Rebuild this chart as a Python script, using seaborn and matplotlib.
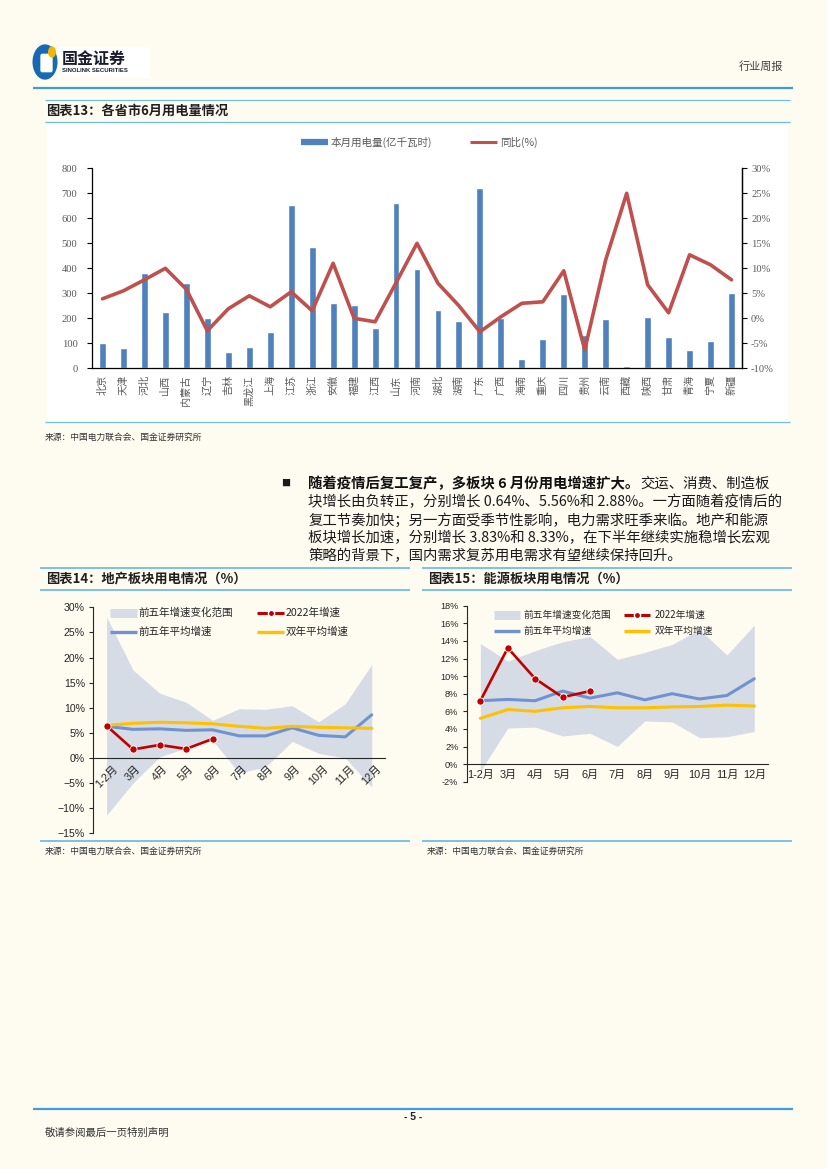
import numpy as np
import pandas as pd
import matplotlib
matplotlib.use("Agg")
import matplotlib.pyplot as plt
import seaborn as sns
from matplotlib.lines import Line2D
from matplotlib.patches import Rectangle, Circle, FancyBboxPatch

sns.set_theme(style="white")
CJK = ["Noto Sans CJK SC", "DejaVu Sans"]
SANS = ["Liberation Sans", "Noto Sans CJK SC", "DejaVu Sans"]
SERIF = ["Liberation Serif", "Noto Sans CJK SC", "DejaVu Sans"]
plt.rcParams["font.family"] = CJK
plt.rcParams["axes.unicode_minus"] = True

# ---------------- data ----------------
provinces = ["北京", "天津", "河北", "山西", "内蒙古", "辽宁", "吉林", "黑龙江", "上海", "江苏",
             "浙江", "安徽", "福建", "江西", "山东", "河南", "湖北", "湖南", "广东", "广西",
             "海南", "重庆", "四川", "贵州", "云南", "西藏", "陕西", "甘肃", "青海", "宁夏", "新疆"]
power = [100, 83, 381, 227, 340, 200, 64, 87, 147, 652,
         485, 261, 253, 160, 660, 396, 232, 188, 721, 200,
         39, 116, 297, 135, 197, 8, 204, 125, 75, 109, 301]
yoy = [3.9, 5.5, 7.7, 10.0, 5.8, -2.5, 1.9, 4.5, 2.3, 5.3,
       1.5, 11.0, 0.0, -0.7, 7.1, 15.0, 7.0, 2.5, -2.7, 0.3,
       3.0, 3.3, 9.5, -6.3, 11.7, 25.0, 6.7, 1.1, 12.7, 10.7, 7.7]

months = ["1-2月", "3月", "4月", "5月", "6月", "7月", "8月", "9月", "10月", "11月", "12月"]

re_hi = [28.1, 17.5, 12.9, 11.1, 7.5, 9.8, 9.7, 10.4, 7.2, 10.8, 18.6]
re_lo = [-11.4, -5.0, 0.2, 2.0, 3.5, -3.0, -1.8, 3.3, 0.9, 0.0, -5.8]
re_avg = [6.3, 5.7, 5.8, 5.5, 5.6, 4.4, 4.4, 6.0, 4.5, 4.2, 8.6]
re_two = [6.5, 6.9, 7.1, 7.0, 6.8, 6.3, 5.9, 6.3, 6.1, 6.0, 5.9]
re_2022 = [6.4, 1.7, 2.6, 1.8, 3.8]

en_hi = [13.7, 11.7, 12.9, 13.9, 14.5, 11.9, 12.7, 13.6, 15.3, 12.4, 15.8]
en_lo = [-0.8, 4.1, 4.2, 3.2, 3.5, 2.0, 4.9, 4.8, 3.0, 3.1, 3.7]
en_avg = [7.2, 7.35, 7.2, 8.3, 7.5, 8.1, 7.3, 8.0, 7.4, 7.8, 9.7]
en_two = [5.2, 6.2, 6.0, 6.4, 6.55, 6.4, 6.4, 6.5, 6.55, 6.7, 6.6]
en_2022 = [7.2, 13.2, 9.7, 7.6, 8.3]

left_ticks_13 = list(range(0, 801, 100))
right_ticks_13 = list(range(-10, 31, 5))
ticks_14 = list(range(-15, 31, 5))
ticks_15 = list(range(-2, 19, 2))

legend_13 = ["本月用电量(亿千瓦时)", "同比(%)"]
legend_band = ["前五年增速变化范围", "前五年平均增速", "2022年增速", "双年平均增速"]

para_bold = "随着疫情后复工复产，多板块 6 月份用电增速扩大。"
para_lines = ["交运、消费、制造板",
              "块增长由负转正，分别增长 0.64%、5.56%和 2.88%。一方面随着疫情后的",
              "复工节奏加快；另一方面受季节性影响，电力需求旺季来临。地产和能源",
              "板块增长加速，分别增长 3.83%和 8.33%，在下半年继续实施稳增长宏观",
              "策略的背景下，国内需求复苏用电需求有望继续保持回升。"]

# ---------------- colours ----------------
BG = "#FEFBF1"
BAR = "#4F81BD"
LINE13 = "#C0504D"
BAND = "#D6DCE6"
AVG = "#7093D0"
TWO = "#FFC000"
RED = "#C00000"
RULE = "#6EBDE6"
RULE_DARK = "#3E9FD8"
GRAY = "#595959"

W, H = 827, 1169
fig = plt.figure(figsize=(W / 100, H / 100), dpi=100, facecolor=BG)


def rect(x0, y0, x1, y1):
    return [x0 / W, 1 - y1 / H, (x1 - x0) / W, (y1 - y0) / H]


def hline(y, x0, x1, color=RULE, lw=1.0):
    fig.add_artist(Line2D([x0 / W, x1 / W], [1 - y / H, 1 - y / H], color=color, lw=lw,
                          transform=fig.transFigure, solid_capstyle="butt"))


def ftext(x, y, s, **kw):
    return fig.text(x / W, 1 - y / H, s, **kw)


# ---------------- header ----------------
fig.add_artist(Rectangle((58 / W, 1 - 78 / H), 92 / W, 31 / H, transform=fig.transFigure,
                         facecolor="white", edgecolor="none"))
fig.add_artist(Circle((45 / W, 1 - 62 / H), 12.5 / W, transform=fig.transFigure,
                      facecolor="#1769B3", edgecolor="none"))
fig.add_artist(FancyBboxPatch((42 / W, 1 - 70 / H), 9 / W, 14 / H, transform=fig.transFigure,
                              boxstyle="round,pad=0.002", facecolor="white", edgecolor="none"))
fig.add_artist(Circle((52 / W, 1 - 52 / H), 4 / W, transform=fig.transFigure,
                      facecolor="#F2B705", edgecolor="none"))
ftext(62, 59, "国金证券", fontsize=11.5, fontweight="bold", color="#1A1A2E", va="center", ha="left")
ftext(62, 71, "SINOLINK SECURITIES", fontsize=4.3, fontweight="bold", color="#1A1A2E",
      va="center", ha="left", family=["Liberation Sans"])
ftext(783, 67, "行业周报", fontsize=8, color="#404040", ha="right", va="center")
hline(88, 33, 793, RULE_DARK, 1.6)

# ---------------- chart 13 ----------------
hline(100, 45, 790, RULE, 0.9)
ftext(46, 110.5, "图表13：各省市6月用电量情况", fontsize=9.5, fontweight="bold", color="#1F1F1F",
      va="center", ha="left")
fig.add_artist(Rectangle((47 / W, 1 - 422 / H), (788 - 47) / W, (422 - 121.5) / H,
                         transform=fig.transFigure, facecolor="white", edgecolor="none", zorder=0))
hline(121.5, 45, 790, RULE, 0.9)
hline(422, 45, 790, RULE, 0.9)

ax = fig.add_axes(rect(92, 168.3, 742, 368.3))
ax.set_facecolor("none")
sns.barplot(x=provinces, y=power, color=BAR, saturation=1, width=0.33, ax=ax)
ax.set_xlim(-0.5, len(provinces) - 0.5)
ax.set_ylim(0, 800)
ax.set_yticks(left_ticks_13)
ax.set_yticklabels([str(v) for v in left_ticks_13], family=SERIF, fontsize=7.6, color=GRAY)
ax.set_xticks(range(len(provinces)))
ax.set_xticklabels(provinces, rotation=90, fontsize=7.3, color=GRAY)
ax.set_xticks(np.arange(-0.5, len(provinces), 1.0), minor=True)
ax.tick_params(axis="x", which="major", length=0, pad=5)
ax.tick_params(axis="x", which="minor", length=3.5, width=0.8, color="black", direction="out")
ax.tick_params(axis="y", which="major", length=3.5, width=0.8, color="black", direction="out",
               left=True, pad=7)
ax.set_xlabel("")
ax.set_ylabel("")
ax.spines["top"].set_visible(False)
for s in ["left", "bottom", "right"]:
    ax.spines[s].set_color("black")
    ax.spines[s].set_linewidth(0.9)

ax2 = ax.twinx()
sns.lineplot(x=np.arange(len(provinces)), y=yoy, color=LINE13, lw=2.6, ax=ax2)
ax2.set_ylim(-10, 30)
ax2.set_yticks(right_ticks_13)
ax2.set_yticklabels([f"{v}%" for v in right_ticks_13], family=SERIF, fontsize=7.6, color=GRAY)
ax2.tick_params(axis="y", length=3.5, width=0.8, color="black", direction="out", right=True, pad=3)
ax2.set_ylabel("")
ax2.spines["top"].set_visible(False)
ax2.spines["left"].set_visible(False)
ax2.spines["bottom"].set_visible(False)
ax2.spines["right"].set_color("black")
ax2.spines["right"].set_linewidth(0.9)

# legend (chart 13)
y_leg = 142
fig.add_artist(Line2D([301 / W, 328 / W], [1 - y_leg / H] * 2, color=BAR, lw=4.5,
                      solid_capstyle="butt", transform=fig.transFigure))
ftext(331, y_leg, legend_13[0], fontsize=7.6, color=GRAY, va="center", ha="left")
fig.add_artist(Line2D([470 / W, 497 / W], [1 - y_leg / H] * 2, color=LINE13, lw=2.2,
                      solid_capstyle="butt", transform=fig.transFigure))
ftext(500, y_leg, legend_13[1], fontsize=7.6, color=GRAY, va="center", ha="left")

ftext(45, 437, "来源：中国电力联合会、国金证券研究所", fontsize=6.3, color="#333333",
      va="center", ha="left")

# ---------------- paragraph ----------------
ftext(286, 483.5, "■", fontsize=6.5, color="#1A1A1A", va="center", ha="center")
renderer = fig.canvas.get_renderer()
line_y = [483.5, 501.8, 520, 538.3, 556.3]
PFS = 10.35
tb = ftext(308.5, line_y[0], para_bold, fontsize=PFS, fontweight="bold", color="#111111",
           va="center", ha="left")
bb = tb.get_window_extent(renderer)
ftext(bb.x1 + 1, line_y[0], para_lines[0], fontsize=PFS, color="#1A1A1A", va="center", ha="left")
for yy, s in zip(line_y[1:], para_lines[1:]):
    ftext(308.5, yy, s, fontsize=PFS, color="#1A1A1A", va="center", ha="left")


# ---------------- charts 14 / 15 ----------------
def band_chart(box, ylim, yticks, hi, lo, avg, two, y22, rot, tick_fs, ylab_fmt):
    a = fig.add_axes(rect(*box))
    a.set_facecolor("none")
    a.set_axisbelow(False)
    a.spines["top"].set_visible(False)
    a.spines["right"].set_visible(False)
    a.spines["bottom"].set_position(("data", 0))
    x = np.arange(len(months))
    a.fill_between(x, lo, hi, color=BAND, lw=0, zorder=1)
    sns.lineplot(x=x, y=avg, color=AVG, lw=2.2, ax=a, zorder=3)
    sns.lineplot(x=x, y=two, color=TWO, lw=2.2, ax=a, zorder=4)
    sns.lineplot(x=x[:len(y22)], y=y22, color=RED, lw=1.9, marker="o", markersize=5.2,
                 markerfacecolor=RED, markeredgecolor="white", markeredgewidth=0.6, ax=a, zorder=5)
    a.set_xlim(-0.5, len(months) - 0.5)
    a.set_ylim(*ylim)
    a.set_yticks(yticks)
    a.set_yticklabels([ylab_fmt(v) for v in yticks], family=SANS, fontsize=tick_fs, color="#262626")
    a.set_xticks(x)
    if rot:
        a.set_xticklabels(months, family=SANS, fontsize=7.8, color="#262626", rotation=45,
                          ha="center", va="top")
    else:
        a.set_xticklabels(months, family=SANS, fontsize=7.9, color="#262626")
    a.set_xticks(np.arange(-0.5, len(months), 1.0), minor=True)
    a.tick_params(axis="x", which="major", length=0, pad=4 if rot else 4)
    a.tick_params(axis="x", which="minor", length=3, width=0.8, color="#262626", direction="out")
    a.tick_params(axis="y", length=3, width=0.8, color="#262626", direction="out", left=True, pad=3)
    for s in ["left", "bottom"]:
        a.spines[s].set_color("#262626")
        a.spines[s].set_linewidth(0.8)
    a.set_xlabel("")
    a.set_ylabel("")
    return a


def pct_minus(v):
    return f"{v}%".replace("-", "\u2212")


def pct_hyphen(v):
    return f"{v}%"


# chart 14
hline(567.7, 40, 410, RULE, 1.3)
ftext(46, 578.5, "图表14：地产板块用电情况（%）", fontsize=9.5, fontweight="bold", color="#1F1F1F",
      va="center", ha="left")
hline(590, 40, 410, RULE, 1.3)
band_chart((93.3, 607.3, 385, 833.3), (-15, 30), ticks_14, re_hi, re_lo, re_avg, re_two, re_2022,
           True, 7.6, pct_minus)
hline(840.7, 40, 410, RULE, 1.3)
ftext(45, 851, "来源：中国电力联合会、国金证券研究所", fontsize=6.3, color="#333333",
      va="center", ha="left")

# chart 15
hline(567.7, 422, 792, RULE, 1.3)
ftext(428, 578.5, "图表15：能源板块用电情况（%）", fontsize=9.5, fontweight="bold", color="#1F1F1F",
      va="center", ha="left")
hline(590, 422, 792, RULE, 1.3)
band_chart((466.7, 605.7, 768, 781.7), (-2, 18), ticks_15, en_hi, en_lo, en_avg, en_two, en_2022,
           False, 6.6, pct_hyphen)
hline(840.7, 422, 792, RULE, 1.3)
ftext(427, 851, "来源：中国电力联合会、国金证券研究所", fontsize=6.3, color="#333333",
      va="center", ha="left")


def band_legend(x_h1, x_t1, x_h2, x_t2, y1, y2, hlen, fs):
    rows = [(x_h1, x_t1, y1, "band", legend_band[0]),
            (x_h1, x_t1, y2, "avg", legend_band[1]),
            (x_h2, x_t2, y1, "red", legend_band[2]),
            (x_h2, x_t2, y2, "two", legend_band[3])]
    for xh, xt, yy, kind, lab in rows:
        xs = [xh / W, (xh + hlen) / W]
        ys = [1 - yy / H] * 2
        if kind == "band":
            fig.add_artist(Line2D(xs, ys, color=BAND, lw=6.5, solid_capstyle="butt",
                                  transform=fig.transFigure))
        elif kind == "avg":
            fig.add_artist(Line2D(xs, ys, color=AVG, lw=2.4, solid_capstyle="butt",
                                  transform=fig.transFigure))
        elif kind == "two":
            fig.add_artist(Line2D(xs, ys, color=TWO, lw=2.4, solid_capstyle="butt",
                                  transform=fig.transFigure))
        else:
            fig.add_artist(Line2D(xs, ys, color=RED, lw=2.2, solid_capstyle="butt",
                                  transform=fig.transFigure))
            fig.add_artist(Line2D([(xh + hlen / 2) / W], [1 - yy / H], marker="o", markersize=4.5,
                                  markerfacecolor=RED, markeredgecolor="white",
                                  markeredgewidth=1.0, transform=fig.transFigure))
        ftext(xt, yy, lab, fontsize=fs, color="#262626", va="center", ha="left")


band_legend(110, 138, 257, 286, 612.7, 631.7, 27, 7.6)
band_legend(494, 523, 624, 655, 615, 630.7, 26, 7.0)

# ---------------- footer ----------------
hline(1109, 33, 793, RULE_DARK, 1.6)
ftext(413, 1117, "- 5 -", fontsize=7.5, fontweight="bold", color="#222222", ha="center", va="center",
      family=["Liberation Sans"])
ftext(45, 1133, "敬请参阅最后一页特别声明", fontsize=7.5, color="#333333", ha="left", va="center")

fig.savefig("out.png", dpi=100, facecolor=BG)
